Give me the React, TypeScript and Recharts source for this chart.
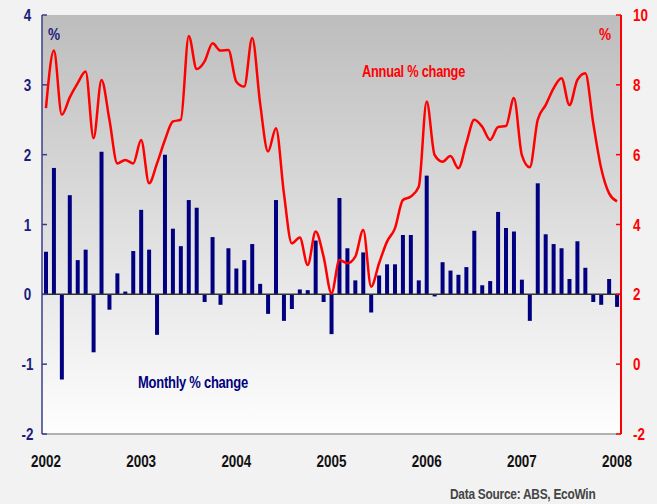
import React from 'react';
import { ComposedChart, Bar, Line, XAxis, YAxis, CartesianGrid, ReferenceLine } from 'recharts';

const years = ['2002', '2003', '2004', '2005', '2006', '2007', '2008'];
const monthNames = ['Jan', 'Feb', 'Mar', 'Apr', 'May', 'Jun', 'Jul', 'Aug', 'Sep', 'Oct', 'Nov', 'Dec'];
const categories: string[] = [];
years.forEach((y) => monthNames.forEach((m) => categories.push(`${m} ${y}`)));
categories.length = 73; // Jan 2002 – Jan 2008

const monthlyChange = [
  0.61, 1.81, -1.22, 1.42, 0.49, 0.64, -0.83, 2.04, -0.22, 0.30, 0.04, 0.62,
  1.21, 0.64, -0.58, 2.00, 0.94, 0.69, 1.35, 1.24, -0.11, 0.82, -0.15, 0.66,
  0.37, 0.49, 0.72, 0.15, -0.28, 1.35, -0.38, -0.21, 0.07, 0.06, 0.77, -0.11,
  -0.57, 1.38, 0.66, 0.20, 0.60, -0.26, 0.27, 0.43, 0.43, 0.85, 0.85, 0.20,
  1.70, -0.03, 0.46, 0.34, 0.28, 0.39, 0.91, 0.13, 0.19, 1.18, 0.95, 0.90,
  0.21, -0.38, 1.59, 0.86, 0.72, 0.66, 0.22, 0.76, 0.38, -0.11, -0.15, 0.22,
  -0.18,
];

const annualChange = [
  7.33, 8.98, 7.14, 7.64, 8.05, 8.38, 6.47, 8.14, 7.0, 5.75, 5.85, 5.75,
  6.42, 5.18, 5.75, 6.42, 6.95, 7.0, 9.40, 8.45, 8.67, 9.19, 8.98, 9.0,
  8.09, 7.95, 9.34, 7.47, 6.09, 6.76, 4.89, 3.46, 3.63, 2.84, 3.80, 3.08,
  2.03, 2.98, 2.89, 3.08, 3.84, 2.22, 2.89, 3.51, 3.89, 4.70, 4.80, 5.08,
  7.52, 5.99, 5.80, 5.96, 5.61, 6.33, 7.0, 6.80, 6.42, 6.79, 6.82, 7.62,
  5.99, 5.64, 7.0, 7.42, 7.90, 8.19, 7.42, 8.14, 8.33, 6.9, 5.61, 4.89,
  4.66,
];

const leftTicks = [-2, -1, 0, 1, 2, 3, 4];
const rightTicks = [-2, 0, 2, 4, 6, 8, 10];
const yearTicks = categories.filter((c) => c.startsWith('Jan'));

const data = categories.map((month, i) => ({
  month,
  monthly: monthlyChange[i],
  annual: annualChange[i],
}));

const NAVY = '#000080';
const AXIS_NAVY = '#1c1c7c';
const RED = '#ff0000';
const FONT = '"Liberation Sans", Arial, sans-serif';
const SX = 0.84;

const LeftTick = (props: any) => (
  <text transform={`translate(${props.x},${props.y + 6}) scale(${SX},1)`} textAnchor="middle" fill={AXIS_NAVY} fontWeight="bold" fontSize={16} fontFamily={FONT}>
    {props.payload.value}
  </text>
);

const RightTick = (props: any) => (
  <text transform={`translate(${props.x},${props.y + 6}) scale(${SX},1)`} textAnchor="start" fill={RED} fontWeight="bold" fontSize={16} fontFamily={FONT}>
    {props.payload.value}
  </text>
);

const BottomTick = (props: any) => (
  <text transform={`translate(${props.x},${props.y + 19}) scale(${SX},1)`} textAnchor="middle" fill="#111" fontWeight="bold" fontSize={16} fontFamily={FONT}>
    {String(props.payload.value).slice(4)}
  </text>
);

const textStyle = (color: string, size: number, sx: number): React.CSSProperties => ({
  position: 'absolute',
  color,
  fontFamily: FONT,
  fontWeight: 'bold',
  fontSize: size,
  letterSpacing: -0.3,
  whiteSpace: 'nowrap',
  lineHeight: 1,
  transform: `scaleX(${sx})`,
  transformOrigin: 'left top',
});

export default function App() {
  return (
    <div style={{ position: 'fixed', left: 0, top: 0, width: 657, height: 504, background: '#f2f2f2', overflow: 'hidden' }}>
      <ComposedChart width={657} height={504} data={data} margin={{ top: 15, right: 0, bottom: 0, left: 0 }} barCategoryGap={0} barGap={0}>
        <defs>
          <linearGradient id="plotBg" x1="0" y1="0" x2="0" y2="1">
            <stop offset="0%" stopColor="#bdbdbd" />
            <stop offset="65%" stopColor="#e8e8e8" />
            <stop offset="100%" stopColor="#fefefe" />
          </linearGradient>
        </defs>
        <CartesianGrid horizontal={false} vertical={false} fill="url(#plotBg)" />
        <XAxis
          dataKey="month"
          ticks={yearTicks}
          interval={0}
          height={70}
          tickSize={0}
          tickMargin={14}
          tick={<BottomTick />}
          axisLine={{ stroke: '#9a9a9a', strokeWidth: 1.5 }}
          tickLine={false}
        />
        <YAxis
          yAxisId="left"
          orientation="left"
          width={42}
          domain={[-2, 4]}
          ticks={leftTicks}
          interval={0}
          tickSize={-5}
          tickMargin={19.5}
          tick={<LeftTick />}
          axisLine={{ stroke: '#3c3c8c', strokeWidth: 1.5 }}
          tickLine={{ stroke: '#3c3c8c', strokeWidth: 1.5 }}
        />
        <YAxis
          yAxisId="right"
          orientation="right"
          width={36}
          domain={[-2, 10]}
          ticks={rightTicks}
          interval={0}
          tickSize={-5}
          tickMargin={17}
          tick={<RightTick />}
          axisLine={{ stroke: RED, strokeWidth: 2 }}
          tickLine={{ stroke: RED, strokeWidth: 1.5 }}
        />
        <ReferenceLine yAxisId="left" y={0} stroke="#333" strokeWidth={1.5} />
        <Bar yAxisId="left" dataKey="monthly" fill={NAVY} barSize={4} isAnimationActive={false} />
        <Line yAxisId="right" dataKey="annual" type="monotone" stroke={RED} strokeWidth={2.5} dot={false} activeDot={false} isAnimationActive={false} />
      </ComposedChart>
      <div style={{ ...textStyle(AXIS_NAVY, 16, 0.85), left: 48, top: 27 }}>%</div>
      <div style={{ ...textStyle(RED, 16, 0.85), left: 599, top: 27 }}>%</div>
      <div style={{ ...textStyle(RED, 16, 0.8), left: 362, top: 64 }}>Annual % change</div>
      <div style={{ ...textStyle(NAVY, 16, 0.81), left: 138, top: 375 }}>Monthly % change</div>
      <div style={{ ...textStyle('#444', 14, 0.85), left: 450, top: 487 }}>Data Source: ABS, EcoWin</div>
    </div>
  );
}
